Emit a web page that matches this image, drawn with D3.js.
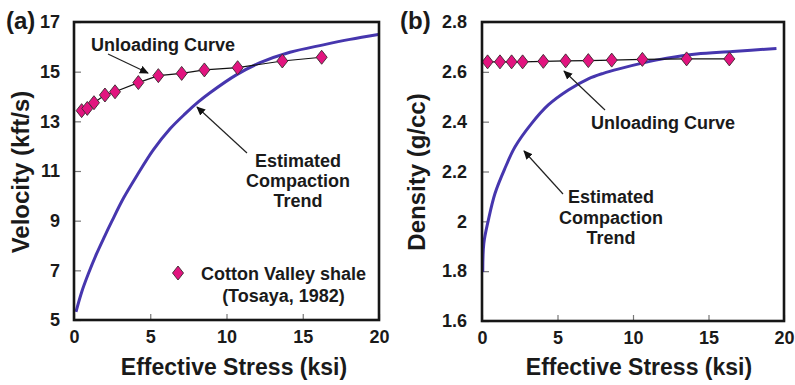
<!DOCTYPE html>
<html>
<head>
<meta charset="utf-8">
<script src="https://cdn.jsdelivr.net/npm/d3@7"></script>
<style>
  body { margin: 0; background: #fff; }
  svg { display: block; }
  text { font-family: "Liberation Sans", Arial, Helvetica, sans-serif; font-weight: bold; fill: #1a1a1a; }
</style>
</head>
<body>
<svg id="chart" width="795" height="385"></svg>
<script>
// Tick values
const stressTicks = [0, 5, 10, 15, 20];
const velocityTicks = [5, 7, 9, 11, 13, 15, 17];
const densityTicks = [1.6, 1.8, 2, 2.2, 2.4, 2.6, 2.8];
const densityTickLabels = ["1.6", "1.8", "2", "2.2", "2.4", "2.6", "2.8"];

// (a) Cotton Valley shale unloading measurements (Tosaya, 1982)
const unloadStressA = [0.5, 0.87, 1.31, 2.03, 2.69, 4.22, 5.53, 7.06, 8.55, 10.73, 13.66, 16.24];
const unloadVelocity = [13.43, 13.52, 13.75, 14.06, 14.19, 14.56, 14.84, 14.93, 15.07, 15.16, 15.43, 15.58];

// (a) estimated compaction trend
const trendStressA = [0.13, 0.5, 0.94, 1.49, 2.0, 2.47, 3.24, 4.11, 5.2, 6.3, 7.28, 8.15, 8.92, 10.67, 12.2, 14.16, 16.35, 18.1, 19.95];
const trendVelocity = [5.33, 6.12, 6.86, 7.68, 8.36, 8.96, 9.9, 10.8, 11.85, 12.7, 13.3, 13.78, 14.15, 14.88, 15.36, 15.78, 16.08, 16.3, 16.5];

// (b) unloading densities
const unloadStressB = [0.37, 1.19, 1.96, 2.69, 4.06, 5.54, 7.04, 8.59, 10.62, 13.55, 16.38];
const unloadDensity = [2.64, 2.64, 2.64, 2.64, 2.642, 2.644, 2.645, 2.647, 2.65, 2.652, 2.652];

// (b) estimated compaction trend
const trendStressB = [0.05, 0.12, 0.42, 0.86, 1.52, 2.19, 3.29, 4.39, 5.72, 7.04, 8.03, 9.14, 10.68, 12.23, 14.2, 16.6, 19.5];
const trendDensity = [1.797, 1.911, 2.005, 2.112, 2.213, 2.299, 2.393, 2.467, 2.527, 2.572, 2.594, 2.613, 2.636, 2.655, 2.672, 2.682, 2.694];

const svg = d3.select("#chart");
svg.append("rect").attr("width", 795).attr("height", 385).attr("fill", "#fff");

const defs = svg.append("defs");
defs.append("marker")
  .attr("id", "arrowhead")
  .attr("viewBox", "0 0 10 10")
  .attr("refX", 9).attr("refY", 5)
  .attr("markerWidth", 9).attr("markerHeight", 9)
  .attr("markerUnits", "userSpaceOnUse")
  .attr("orient", "auto")
  .append("path").attr("d", "M0,0.5 L10,5 L0,9.5 Z").attr("fill", "#111");

const TREND_COLOR = "#4636ae";
const DIAMOND_FILL = "#e2147f";

function diamondPath(w, h) {
  return `M0,${-h / 2} L${w / 2},0 L0,${h / 2} L${-w / 2},0 Z`;
}

function drawPanel(cfg) {
  const x = d3.scaleLinear().domain([0, 20]).range([cfg.left, cfg.right]);
  const y = d3.scaleLinear().domain(cfg.yDomain).range([cfg.bottom, cfg.top]);
  const g = svg.append("g");

  // axes with inward ticks
  const yAxis = d3.axisLeft(y).tickValues(cfg.yTicks).tickSize(-7).tickPadding(cfg.yPad)
    .tickFormat((d, i) => cfg.yLabels[i]);
  const ya = g.append("g").attr("transform", `translate(${cfg.left},0)`).call(yAxis);
  const xAxis = d3.axisBottom(x).tickValues(stressTicks).tickSize(-6).tickPadding(10.5);
  const xa = g.append("g").attr("transform", `translate(0,${cfg.bottom})`).call(xAxis);
  [ya, xa].forEach(a => {
    a.select(".domain").remove();
    a.selectAll(".tick line").attr("stroke", "#777").attr("stroke-width", 1.2);
    a.selectAll(".tick text").attr("font-size", 18).attr("fill", "#1a1a1a")
      .attr("font-family", null);
  });

  // compaction trend
  const trend = d3.zip(cfg.trendX, cfg.trendY);
  g.append("path")
    .datum(trend)
    .attr("fill", "none")
    .attr("stroke", TREND_COLOR)
    .attr("stroke-width", 3)
    .attr("stroke-linejoin", "round")
    .attr("d", d3.line().x(d => x(d[0])).y(d => y(d[1])).curve(d3.curveCatmullRom.alpha(0.5)));

  // unloading curve
  const pts = d3.zip(cfg.unloadX, cfg.unloadY);
  g.append("path")
    .datum(pts)
    .attr("fill", "none")
    .attr("stroke", "#111")
    .attr("stroke-width", 1.2)
    .attr("d", d3.line().x(d => x(d[0])).y(d => y(d[1])));
  g.selectAll(".pt").data(pts).join("path")
    .attr("class", "pt")
    .attr("transform", d => `translate(${x(d[0])},${y(d[1])})`)
    .attr("d", diamondPath(11, 14))
    .attr("fill", DIAMOND_FILL)
    .attr("stroke", "#3a2a30")
    .attr("stroke-width", 0.9);

  // frame
  g.append("rect")
    .attr("x", cfg.left).attr("y", cfg.top)
    .attr("width", cfg.right - cfg.left).attr("height", cfg.bottom - cfg.top)
    .attr("fill", "none").attr("stroke", "#161616").attr("stroke-width", 2.6);

  // titles
  g.append("text")
    .attr("x", cfg.xTitleX).attr("y", 375)
    .attr("text-anchor", "middle").attr("font-size", 23)
    .text("Effective Stress (ksi)");
  g.append("text")
    .attr("transform", `translate(${cfg.yTitleX},${cfg.yTitleY}) rotate(-90)`)
    .attr("text-anchor", "middle").attr("font-size", 24)
    .text(cfg.yTitle);
  g.append("text")
    .attr("x", cfg.panelX).attr("y", 29)
    .attr("font-size", 24)
    .text(cfg.panelLabel);

  // annotations
  cfg.notes.forEach(n => {
    const t = g.append("text").attr("text-anchor", "middle").attr("font-size", 18);
    n.lines.forEach((line, i) => {
      t.append("tspan").attr("x", n.x).attr("y", n.y + i * n.lead).text(line);
    });
  });
  cfg.arrows.forEach(a => {
    g.append("line")
      .attr("x1", a[0]).attr("y1", a[1]).attr("x2", a[2]).attr("y2", a[3])
      .attr("stroke", "#222").attr("stroke-width", 1.2)
      .attr("marker-end", "url(#arrowhead)");
  });
  return { g, x, y };
}

const panelA = drawPanel({
  left: 74, right: 379, top: 22, bottom: 320,
  yDomain: [5, 17], yTicks: velocityTicks, yLabels: velocityTicks.map(String), yPad: 14,
  trendX: trendStressA, trendY: trendVelocity,
  unloadX: unloadStressA, unloadY: unloadVelocity,
  xTitleX: 234, yTitleX: 29, yTitleY: 172, yTitle: "Velocity (kft/s)",
  panelX: 6, panelLabel: "(a)",
  notes: [
    { x: 163, y: 51, lead: 20, lines: ["Unloading Curve"] },
    { x: 298, y: 167, lead: 20, lines: ["Estimated", "Compaction", "Trend"] }
  ],
  arrows: [[108, 54, 148, 73], [247, 153, 197, 107]]
});

// legend for the measured points
panelA.g.append("path")
  .attr("transform", "translate(178,273)")
  .attr("d", diamondPath(11, 14))
  .attr("fill", DIAMOND_FILL).attr("stroke", "#3a2a30").attr("stroke-width", 0.9);
panelA.g.append("text")
  .attr("text-anchor", "middle").attr("font-size", 18)
  .selectAll("tspan").data(["Cotton Valley shale", "(Tosaya, 1982)"]).join("tspan")
  .attr("x", 283.5).attr("y", (d, i) => 280 + i * 21.5).text(d => d);

drawPanel({
  left: 482, right: 784, top: 22, bottom: 321,
  yDomain: [1.6, 2.8], yTicks: densityTicks, yLabels: densityTickLabels, yPad: 15,
  trendX: trendStressB, trendY: trendDensity,
  unloadX: unloadStressB, unloadY: unloadDensity,
  xTitleX: 639, yTitleX: 425, yTitleY: 172, yTitle: "Density (g/cc)",
  panelX: 400, panelLabel: "(b)",
  notes: [
    { x: 663, y: 129, lead: 20, lines: ["Unloading Curve"] },
    { x: 611, y: 203, lead: 20.7, lines: ["Estimated", "Compaction", "Trend"] }
  ],
  arrows: [[605, 110, 564, 71], [563, 194, 524, 151]]
});
</script>
</body>
</html>
